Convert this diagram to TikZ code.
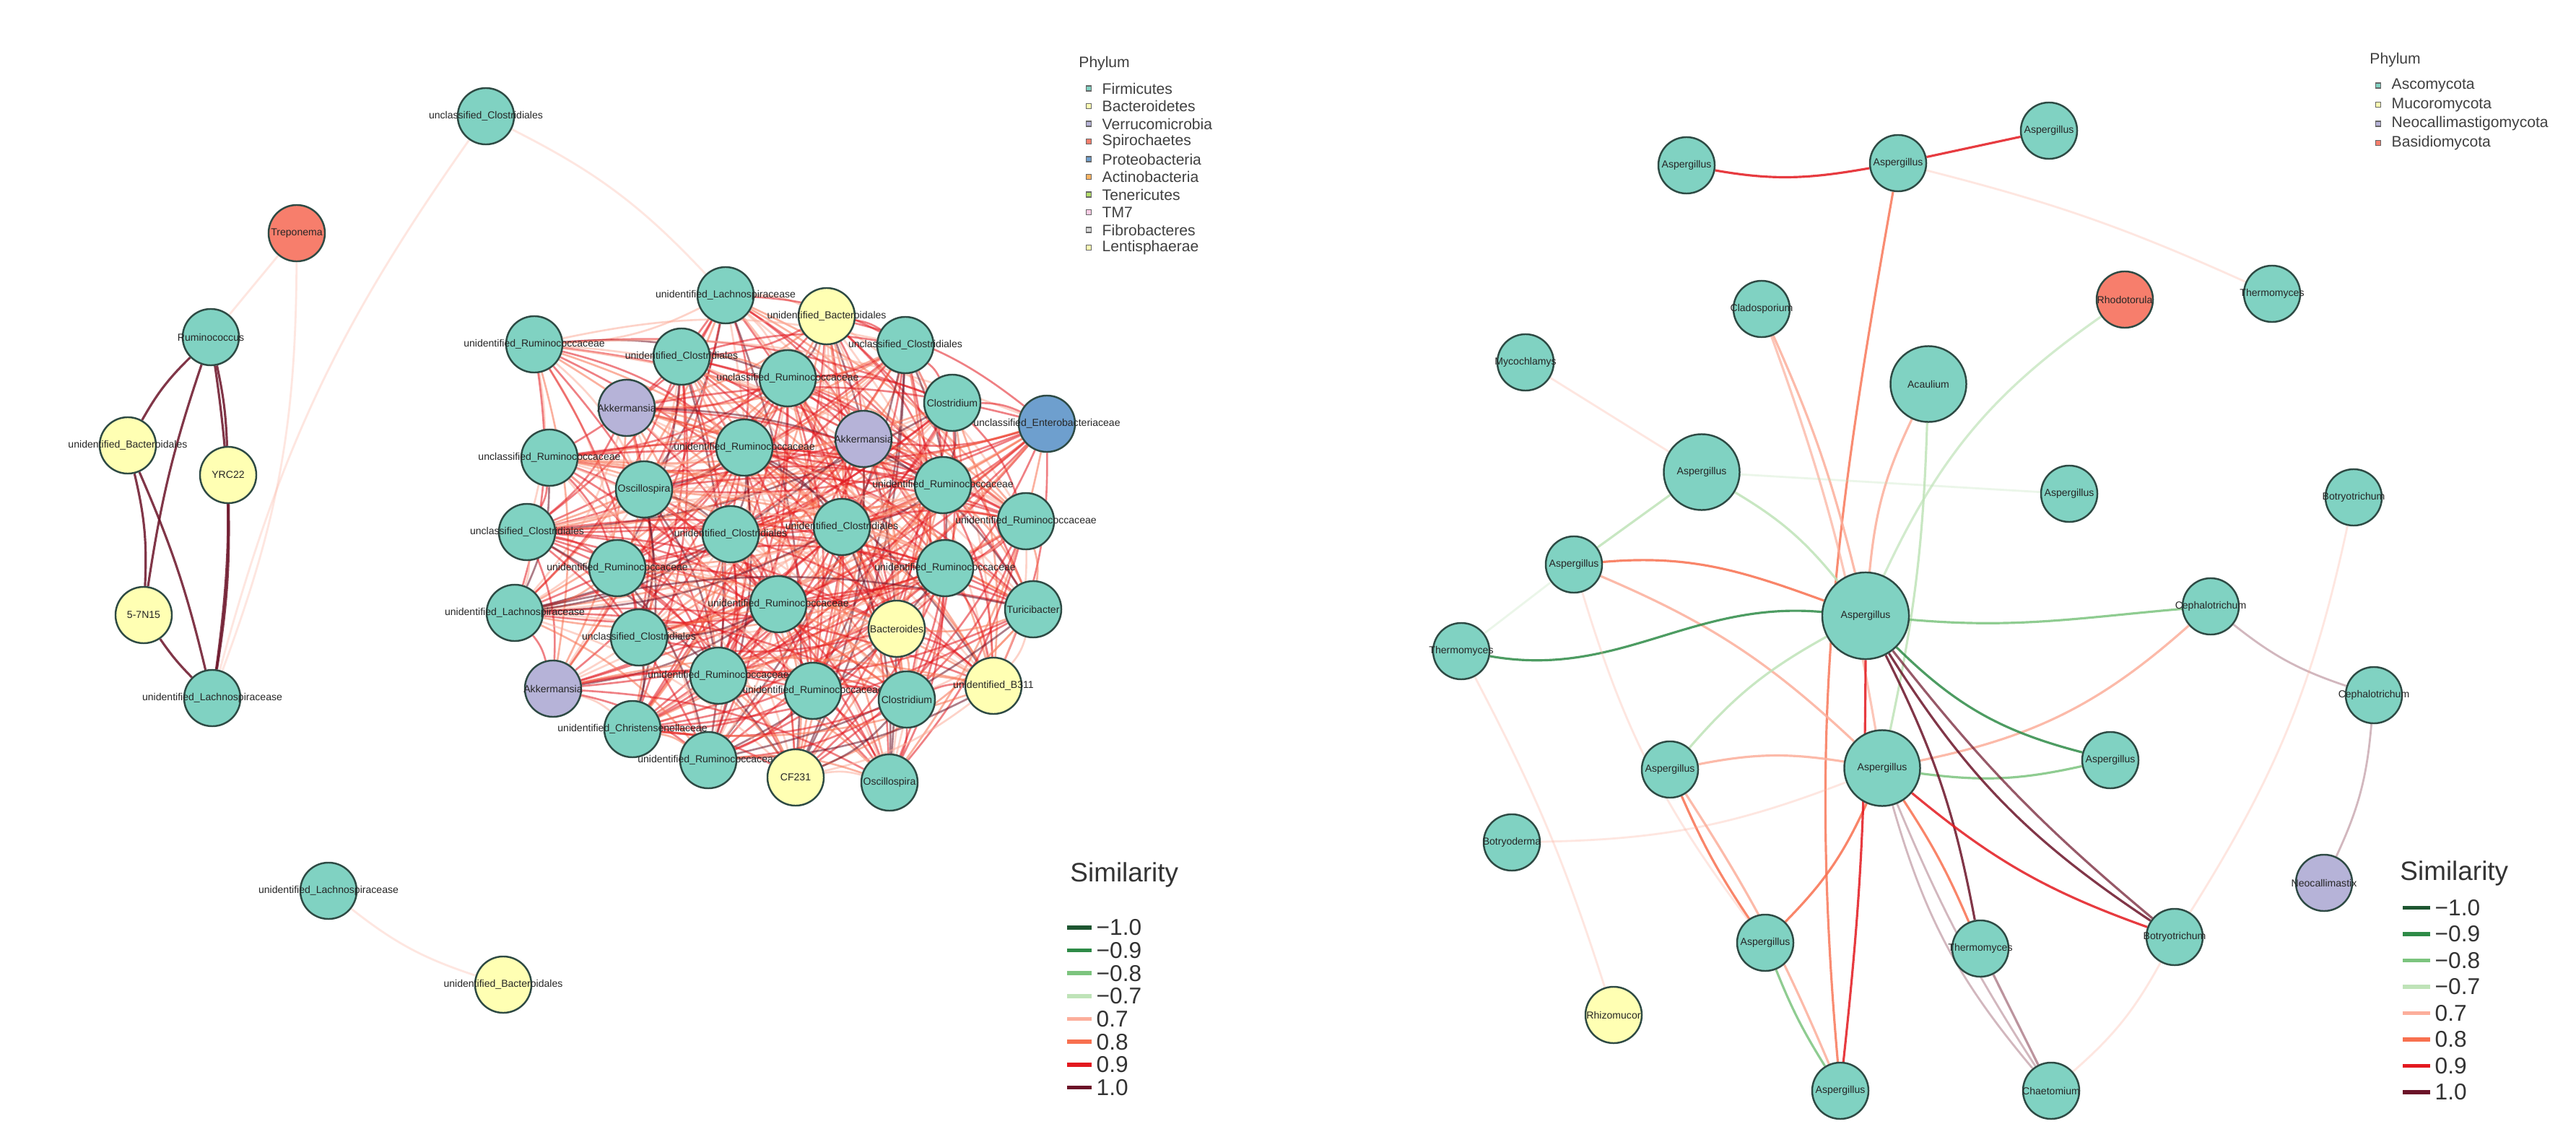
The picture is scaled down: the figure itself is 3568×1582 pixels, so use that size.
\documentclass[tikz,border=0pt]{standalone}
\usepackage{fontspec}
\setmainfont{Liberation Sans}
\pgfdeclarelayer{back}
\pgfdeclarelayer{bg}
\pgfsetlayers{back,bg,main}
\definecolor{cT}{HTML}{80D2C2}
\definecolor{cY}{HTML}{FFFFB3}
\definecolor{cP}{HTML}{B6B3D8}
\definecolor{cR}{HTML}{F77E6C}
\definecolor{cB}{HTML}{6E9FCE}
\definecolor{cO}{HTML}{FDB462}
\definecolor{cG}{HTML}{B3DE69}
\definecolor{cK}{HTML}{FCCDE5}
\definecolor{cE}{HTML}{D9D9D9}
\definecolor{cV}{HTML}{BC80BD}
\definecolor{sim1}{HTML}{1E5631}
\definecolor{sim2}{HTML}{2E8B47}
\definecolor{sim3}{HTML}{7CC47E}
\definecolor{sim4}{HTML}{BFE3B8}
\definecolor{sim5}{HTML}{FCAE9B}
\definecolor{sim6}{HTML}{F8704F}
\definecolor{sim7}{HTML}{E3191F}
\definecolor{sim8}{HTML}{6B1328}
\definecolor{edge}{HTML}{2E4A44}
\tikzset{
  nd/.style={circle,draw=edge,line width=0.7pt,minimum size=0.78cm,inner sep=0pt},
  bignd/.style={nd,minimum size=1.05cm},
  hugend/.style={nd,minimum size=1.2cm},
  every label/.style={font=\fontsize{4}{5}\selectfont,inner sep=0pt,text=black!85},
  e/.style={line width=0.9pt,opacity=0.85},
  faint/.style={line width=0.8pt,opacity=0.3},
  legsq/.style={draw=black!60,line width=0.4pt,minimum size=0.07cm,inner sep=0pt},
  legtxt/.style={font=\fontsize{6}{7}\selectfont,anchor=west,inner sep=0pt,text=black!75},
  simtxt/.style={font=\fontsize{9}{10}\selectfont,anchor=west,inner sep=0pt,text=black!80},
}
\begin{document}
\begin{tikzpicture}[x=0.01cm,y=-0.01cm]
\begin{pgfonlayer}{back}
\fill[white] (0,0) rectangle (3568,1582);
\end{pgfonlayer}
\useasboundingbox (0,0) rectangle (3568,1582);
% ---------------- left small group
\node[nd,fill=cT,label=center:unclassified\_Clostridiales] (uc) at (673,161) {};
\node[nd,fill=cR,label=center:Treponema] (tre) at (411,323) {};
\node[nd,fill=cT,label=center:Ruminococcus] (rum) at (292,467) {};
\node[nd,fill=cY,label=center:unidentified\_Bacteroidales] (ubl) at (177,617) {};
\node[nd,fill=cY,label=center:YRC22] (yrc) at (316,658) {};
\node[nd,fill=cY,label=center:5-7N15] (n15) at (199,852) {};
\node[nd,fill=cT,label=center:unidentified\_Lachnospiracease] (ula) at (294,967) {};
\node[nd,fill=cT,label=center:unidentified\_Lachnospiracease] (ulb) at (455,1234) {};
\node[nd,fill=cY,label=center:unidentified\_Bacteroidales] (ubb) at (697,1364) {};
% ---------------- big cluster
\node[nd,fill=cT,label=center:unidentified\_Lachnospiracease] (c1) at (1005,409) {};
\node[nd,fill=cY,label=center:unidentified\_Bacteroidales] (c2) at (1145,438) {};
\node[nd,fill=cT,label=center:unidentified\_Ruminococcaceae] (c3) at (740,477) {};
\node[nd,fill=cT,label=center:unidentified\_Clostridiales] (c4) at (944,494) {};
\node[nd,fill=cT,label=center:unclassified\_Clostridiales] (c5) at (1254,478) {};
\node[nd,fill=cT,label=center:unclassified\_Ruminococcaceae] (c6) at (1091,524) {};
\node[nd,fill=cP,label=center:Akkermansia] (c7) at (868,565) {};
\node[nd,fill=cT,label=center:Clostridium] (c8) at (1319,558) {};
\node[nd,fill=cB,label=center:unclassified\_Enterobacteriaceae] (c9) at (1450,587) {};
\node[nd,fill=cP,label=center:Akkermansia] (c10) at (1196,608) {};
\node[nd,fill=cT,label=center:unidentified\_Ruminococcaceae] (c11) at (1031,620) {};
\node[nd,fill=cT,label=center:unclassified\_Ruminococcaceae] (c12) at (761,634) {};
\node[nd,fill=cT,label=center:Oscillospira] (c13) at (892,678) {};
\node[nd,fill=cT,label=center:unidentified\_Ruminococcaceae] (c14) at (1306,672) {};
\node[nd,fill=cT,label=center:unclassified\_Clostridiales] (c15) at (730,737) {};
\node[nd,fill=cT,label=center:unidentified\_Clostridiales] (c16) at (1012,740) {};
\node[nd,fill=cT,label=center:unidentified\_Clostridiales] (c17) at (1166,730) {};
\node[nd,fill=cT,label=center:unidentified\_Ruminococcaceae] (c18) at (1421,722) {};
\node[nd,fill=cT,label=center:unidentified\_Ruminococcaceae] (c19) at (855,787) {};
\node[nd,fill=cT,label=center:unidentified\_Ruminococcaceae] (c20) at (1309,787) {};
\node[nd,fill=cT,label=center:unidentified\_Ruminococcaceae] (c21) at (1078,837) {};
\node[nd,fill=cT,label=center:unidentified\_Lachnospiracease] (c22) at (713,849) {};
\node[nd,fill=cT,label=center:Turicibacter] (c23) at (1431,844) {};
\node[nd,fill=cY,label=center:Bacteroides] (c24) at (1242,871) {};
\node[nd,fill=cT,label=center:unclassified\_Clostridiales] (c25) at (885,883) {};
\node[nd,fill=cP,label=center:Akkermansia] (c26) at (766,954) {};
\node[nd,fill=cT,label=center:unidentified\_Ruminococcaceae] (c27) at (995,936) {};
\node[nd,fill=cT,label=center:unidentified\_Ruminococcaceae] (c28) at (1126,957) {};
\node[nd,fill=cT,label=center:Clostridium] (c29) at (1256,969) {};
\node[nd,fill=cY,label=center:unidentified\_B311] (c30) at (1376,950) {};
\node[nd,fill=cT,label=center:unidentified\_Christensenellaceae] (c31) at (876,1010) {};
\node[nd,fill=cT,label=center:unidentified\_Ruminococcaceae] (c32) at (981,1053) {};
\node[nd,fill=cY,label=center:CF231] (c33) at (1102,1077) {};
\node[nd,fill=cT,label=center:Oscillospira] (c34) at (1232,1084) {};
% ---------------- right network
\node[nd,fill=cT,label=center:Aspergillus] (a1) at (2336,229) {};
\node[nd,fill=cT,label=center:Aspergillus] (a2) at (2629,226) {};
\node[nd,fill=cT,label=center:Aspergillus] (a3) at (2838,181) {};
\node[nd,fill=cT,label=center:Cladosporium] (cla) at (2440,428) {};
\node[nd,fill=cR,label=center:Rhodotorula] (rho) at (2943,415) {};
\node[nd,fill=cT,label=center:Thermomyces] (th1) at (3147,407) {};
\node[nd,fill=cT,label=center:Mycochlamys] (myc) at (2113,502) {};
\node[bignd,fill=cT,label=center:Acaulium] (aca) at (2671,532) {};
\node[bignd,fill=cT,label=center:Aspergillus] (a4) at (2357,654) {};
\node[nd,fill=cT,label=center:Aspergillus] (a5) at (2866,684) {};
\node[nd,fill=cT,label=center:Botryotrichum] (bo1) at (3260,689) {};
\node[nd,fill=cT,label=center:Aspergillus] (a6) at (2180,782) {};
\node[hugend,fill=cT,label=center:Aspergillus] (ac) at (2584,853) {};
\node[nd,fill=cT,label=center:Cephalotrichum] (ce1) at (3062,840) {};
\node[nd,fill=cT,label=center:Thermomyces] (th2) at (2024,902) {};
\node[nd,fill=cT,label=center:Cephalotrichum] (ce2) at (3288,963) {};
\node[nd,fill=cT,label=center:Aspergillus] (a7) at (2923,1053) {};
\node[nd,fill=cT,label=center:Aspergillus] (a8) at (2313,1066) {};
\node[bignd,fill=cT,label=center:Aspergillus] (a9) at (2607,1064) {};
\node[nd,fill=cT,label=center:Botryoderma] (bod) at (2094,1167) {};
\node[nd,fill=cP,label=center:Neocallimastix] (neo) at (3219,1223) {};
\node[nd,fill=cT,label=center:Aspergillus] (a10) at (2445,1306) {};
\node[nd,fill=cT,label=center:Thermomyces] (th3) at (2743,1314) {};
\node[nd,fill=cT,label=center:Botryotrichum] (bo2) at (3012,1298) {};
\node[nd,fill=cY,label=center:Rhizomucor] (rhz) at (2235,1406) {};
\node[nd,fill=cT,label=center:Aspergillus] (a11) at (2549,1511) {};
\node[nd,fill=cT,label=center:Chaetomium] (cha) at (2841,1511) {};
% ---------------- edges (background)
\begin{pgfonlayer}{bg}
% left group
\draw[e,sim8] (rum) to[bend right=8] (ubl);
\draw[e,sim8] (rum) to[bend left=5] (yrc);
\draw[e,sim8] (rum) to[bend left=8] (ula);
\draw[e,sim8] (rum) to[bend right=5] (n15);
\draw[e,sim8] (ubl) to[bend left=8] (n15);
\draw[e,sim8] (ubl) to[bend left=5] (ula);
\draw[e,sim8] (yrc) to[bend left=5] (ula);
\draw[e,sim8] (n15) to[bend right=5] (ula);
\draw[faint,sim5] (tre) -- (rum);
\draw[faint,sim5] (tre) to[bend left=10] (ula);
\draw[faint,sim5] (uc) to[bend right=10] (ula);
\draw[faint,sim5] (uc) to[bend left=10] (c1);
\draw[faint,sim5] (ulb) to[bend right=10] (ubb);
% cluster
\pgfmathsetseed{11}
\foreach \i in {1,...,34}{
  \foreach \j in {1,...,34}{
    \ifnum\j>\i
      \pgfmathrandominteger{\r}{0}{99}
      \pgfmathrandominteger{\q}{0}{19}
      \ifnum\q<4 \def\cc{sim5}\else\ifnum\q<9 \def\cc{sim6}\else\ifnum\q<18 \def\cc{sim7}\else\def\cc{sim8}\fi\fi\fi
      \ifnum\r<70
        \draw[line width=0.75pt,\cc,opacity=0.55] (c\i) to[bend left=12] (c\j);
      \fi
    \fi
  }
}
% right network
\draw[e,sim7] (a1) to[out=-10,in=190] (a2);
\draw[e,sim7] (a2) -- (a3);
\draw[faint,sim5] (a2) to[bend left=5] (th1);
\draw[e,sim6,opacity=0.8] (a2) to[out=-100,in=95] (a11);
\draw[e,sim5] (cla) to[bend left=5] (ac);
\draw[e,sim5,opacity=0.7] (cla) to[bend left=5] (a9);
\draw[e,sim4,opacity=0.7] (rho) to[bend right=15] (ac);
\draw[e,sim5] (aca) to[bend right=10] (ac);
\draw[e,sim4] (aca) to[bend left=5] (a9);
\draw[faint,sim5] (myc) -- (a4);
\draw[faint,sim4] (a4) -- (a5);
\draw[e,sim4] (a4) -- (a6);
\draw[e,sim4] (a4) to[bend left=10] (ac);
\draw[e,sim6] (a6) to[out=5,in=160] (ac);
\draw[e,sim5] (a6) to[bend left=10] (a9);
\draw[e,sim2,opacity=0.85] (th2) to[out=-10,in=175] (ac);
\draw[faint,sim4] (th2) -- (a6);
\draw[faint,sim5] (th2) to[bend left=5] (rhz);
\draw[e,sim3] (ac) to[out=-5,in=185] (ce1);
\draw[e,sim5] (ce1) to[bend left=15] (a9);
\draw[faint,sim8] (ce1) to[bend right=10] (ce2);
\draw[faint,sim8] (ce2) to[bend left=10] (neo);
\draw[faint,sim5] (bo1) to[bend left=10] (bo2);
\draw[e,sim2] (ac) to[bend right=15] (a7);
\draw[e,sim3] (a9) to[bend right=10] (a7);
\draw[e,sim8] (ac) to[bend right=12] (bo2);
\draw[e,sim8,opacity=0.7] (ac) to[bend right=6] (bo2);
\draw[e,sim8] (ac) to[bend left=8] (th3);
\draw[e,sim7] (a9) to[bend right=10] (bo2);
\draw[e,sim6] (a9) to[bend left=5] (th3);
\draw[faint,sim8] (a9) to[bend right=5] (cha);
\draw[faint,sim8] (a9) to[bend right=12] (cha);
\draw[e,sim5] (a8) to[bend left=10] (a9);
\draw[e,sim4] (a8) to[bend left=10] (ac);
\draw[e,sim6] (a8) to[bend right=5] (a10);
\draw[e,sim6] (a10) to[bend right=10] (a9);
\draw[e,sim3] (a10) to[bend right=5] (a11);
\draw[e,sim5] (a8) to[bend left=5] (a11);
\draw[e,sim7] (ac) to[bend left=3] (a11);
\draw[faint,sim5] (bod) to[bend right=10] (a9);
\draw[e,sim8,opacity=0.45] (th3) -- (cha);
\draw[faint,sim5] (bo2) to[bend left=10] (cha);
\draw[faint,sim5] (a6) to[bend right=10] (a10);
\end{pgfonlayer}
% ---------------- legends
\node[font=\fontsize{6}{7}\selectfont,anchor=west,text=black!75] (lph) at (1482,88) {Phylum};
\foreach \t/\col [count=\k] in {Firmicutes/cT,Bacteroidetes/cY,Verrucomicrobia/cP,Spirochaetes/cR,Proteobacteria/cB,Actinobacteria/cO,Tenericutes/cG,TM7/cK,Fibrobacteres/cE,Lentisphaerae/cY}{
  \node[legsq,fill=\col] (lq\k) at (1508,98+24.5*\k) {};
  \node[legtxt] (lt\k) at (1526,98+24.5*\k) {\t};
}
\node[font=\fontsize{6}{7}\selectfont,anchor=west,text=black!75] (rph) at (3270,83) {Phylum};
\foreach \t/\col [count=\k] in {Ascomycota/cT,Mucoromycota/cY,Neocallimastigomycota/cP,Basidiomycota/cR}{
  \node[legsq,fill=\col] (rq\k) at (3294,92+26.5*\k) {};
  \node[legtxt] (rt\k) at (3312,92+26.5*\k) {\t};
}
\node[font=\fontsize{10.5}{12}\selectfont,anchor=west,text=black!80] (lsim) at (1470,1212) {Similarity};
\foreach \t [count=\k] in {−1.0,−0.9,−0.8,−0.7,0.7,0.8,0.9,1.0}{
  \draw[line width=1.6pt,sim\k] (1478,1253+31.7*\k) coordinate (ls\k) -- (1512,1253+31.7*\k) coordinate (le\k);
  \node[simtxt] (lv\k) at (1518,1253+31.7*\k) {\t};
}
\node[font=\fontsize{10.5}{12}\selectfont,anchor=west,text=black!80] (rsim) at (3312,1210) {Similarity};
\foreach \t [count=\k] in {−1.0,−0.9,−0.8,−0.7,0.7,0.8,0.9,1.0}{
  \draw[line width=1.6pt,sim\k] (3328,1221+36.5*\k) coordinate (rs\k) -- (3366,1221+36.5*\k) coordinate (re\k);
  \node[simtxt] (rv\k) at (3372,1221+36.5*\k) {\t};
}
\end{tikzpicture}
\end{document}
